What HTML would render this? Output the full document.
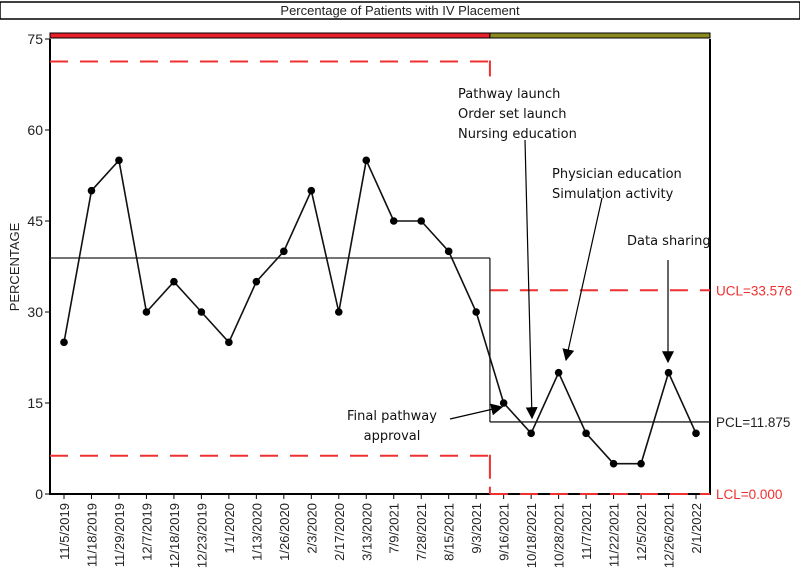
<!DOCTYPE html>
<html><head><meta charset="utf-8"><style>
body{margin:0;background:#fff;}
svg{display:block;font-family:"Liberation Sans",sans-serif;}
.ann{font-family:"DejaVu Sans","Liberation Sans",sans-serif;font-size:13px;fill:#111;}
</style></head><body>
<svg id="chart" width="800" height="577" viewBox="0 0 800 577">
<defs><marker id="ah" markerWidth="10" markerHeight="10" refX="9" refY="5" orient="auto"><path d="M0,0 L10,5 L0,10 z" fill="#000"/></marker></defs>
<rect x="0" y="2" width="800" height="17" fill="#fff" stroke="#000" stroke-width="1.5"/>
<text x="400" y="15" text-anchor="middle" font-size="13" fill="#222">Percentage of Patients with IV Placement</text>
<g id="plot"></g>
</svg>
<script>
const categories=["11/5/2019","11/18/2019","11/29/2019","12/7/2019","12/18/2019","12/23/2019","1/1/2020","1/13/2020","1/26/2020","2/3/2020","2/17/2020","3/13/2020","7/9/2021","7/28/2021","8/15/2021","9/3/2021","9/16/2021","10/18/2021","10/28/2021","11/7/2021","11/22/2021","12/5/2021","12/26/2021","2/1/2022"];
const values=[25,50,55,30,35,30,25,35,40,50,30,55,45,45,40,30,15,10,20,10,5,5,20,10];
const yTicks=[0,15,30,45,60,75];
const phase1Limits=[6.3,38.9,71.3];
const phase2Limits=[0,11.875,33.576];
const phase2Labels=["LCL=0.000","PCL=11.875","UCL=33.576"];
const phaseBreak=16;

const NS="http://www.w3.org/2000/svg";
const g=document.getElementById('plot');
const L=50,R=710,T=39,B=494;
const x=i=>64+i*(696-64)/(categories.length-1);
const y=v=>B-v*(B-T)/75;
function el(t,a){const e=document.createElementNS(NS,t);for(const k in a)e.setAttribute(k,a[k]);g.appendChild(e);return e;}
const bx=(x(phaseBreak-1)+x(phaseBreak))/2;

let e;
e=el('rect',{x:L,y:33,width:bx-L,height:5,fill:"#e8202a",stroke:"#000","stroke-width":1});

e=el('rect',{x:bx,y:33,width:R-bx,height:5,fill:"#8a8a20",stroke:"#000","stroke-width":1});

e=el('path',{d:`M${L},${T} V${B} H${R} V${T}`,fill:"none",stroke:"#000","stroke-width":2});


yTicks.forEach(v=>{
 e=el('line',{x1:L-5,x2:L,y1:y(v),y2:y(v),stroke:"#000","stroke-width":1});
 
 e=el('text',{x:L-7,y:y(v)+5,"text-anchor":"end","font-size":14,fill:"#222"});e.textContent=v;
 
});
e=el('text',{x:19,y:267,"text-anchor":"middle","font-size":13,fill:"#222",transform:"rotate(-90 19 267)"});e.textContent="PERCENTAGE";


categories.forEach((c,i)=>{
 e=el('line',{x1:x(i),x2:x(i),y1:B,y2:B+5,stroke:"#000","stroke-width":1});
 
 e=el('text',{x:x(i)+5,y:B+9,"text-anchor":"end","font-size":13,fill:"#222",transform:`rotate(-90 ${x(i)+5} ${B+9})`});e.textContent=c;
 
});

const red="#f03030";
function seg(x1,x2,v,dash,col,name){e=el('line',{x1,x2,y1:y(v),y2:y(v),stroke:col,"stroke-width":dash?2:1.3,"stroke-dasharray":dash?"18,12":"none"});
 }
seg(L,bx,phase1Limits[0],true,red,'lcl-phase1');
seg(L,bx,phase1Limits[1],false,"#222",'center-line-phase1');
seg(L,bx,phase1Limits[2],true,red,'ucl-phase1');
seg(bx,R,phase2Limits[0],true,red,'lcl-phase2');
seg(bx,R,phase2Limits[1],false,"#222",'center-line-phase2');
seg(bx,R,phase2Limits[2],true,red,'ucl-phase2');
e=el('line',{x1:bx,x2:bx,y1:y(phase1Limits[2])-1,y2:y(phase1Limits[2])+15,stroke:red,"stroke-width":2});

e=el('line',{x1:bx,x2:bx,y1:y(phase1Limits[1]),y2:y(phase2Limits[1]),stroke:"#222","stroke-width":1.3});

e=el('line',{x1:bx,x2:bx,y1:y(phase1Limits[0])-1,y2:B,stroke:red,"stroke-width":2,"stroke-dasharray":"24,8"});

const cols=[red,"#222",red];
phase2Labels.forEach((t,k)=>{e=el('text',{x:R+6,y:y(phase2Limits[k])+5,"font-size":13.5,fill:cols[k]});e.textContent=t;
 });

e=el('polyline',{points:values.map((v,i)=>x(i)+","+y(v)).join(" "),fill:"none",stroke:"#111","stroke-width":1.6});

values.forEach((v,i)=>{e=el('circle',{cx:x(i),cy:y(v),r:3.8,fill:"#000"});
 });

function txt(lines,x0,y0,anchor,name){lines.forEach((t,k)=>{e=el('text',{x:x0,y:y0+k*20,"text-anchor":anchor,class:"ann"});e.textContent=t;
 });}
function arr(x1,y1,x2,y2,name){e=el('line',{x1,y1,x2,y2,stroke:"#000","stroke-width":1.2,"marker-end":"url(#ah)"});
 }
txt(["Pathway launch","Order set launch","Nursing education"],458,98,"start",'annotation-pathway-launch');
arr(525,140,532,418,'arrow-pathway-launch');
txt(["Physician education","Simulation activity"],552,178,"start",'annotation-physician-education');
arr(602,198,566,360,'arrow-physician-education');
txt(["Data sharing"],627,245,"start",'annotation-data-sharing');
arr(668,260,668,362,'arrow-data-sharing');
txt(["Final pathway","approval"],392,420,"middle",'annotation-final-pathway');
arr(450,419,502,407,'arrow-final-pathway');
</script>
</body></html>
